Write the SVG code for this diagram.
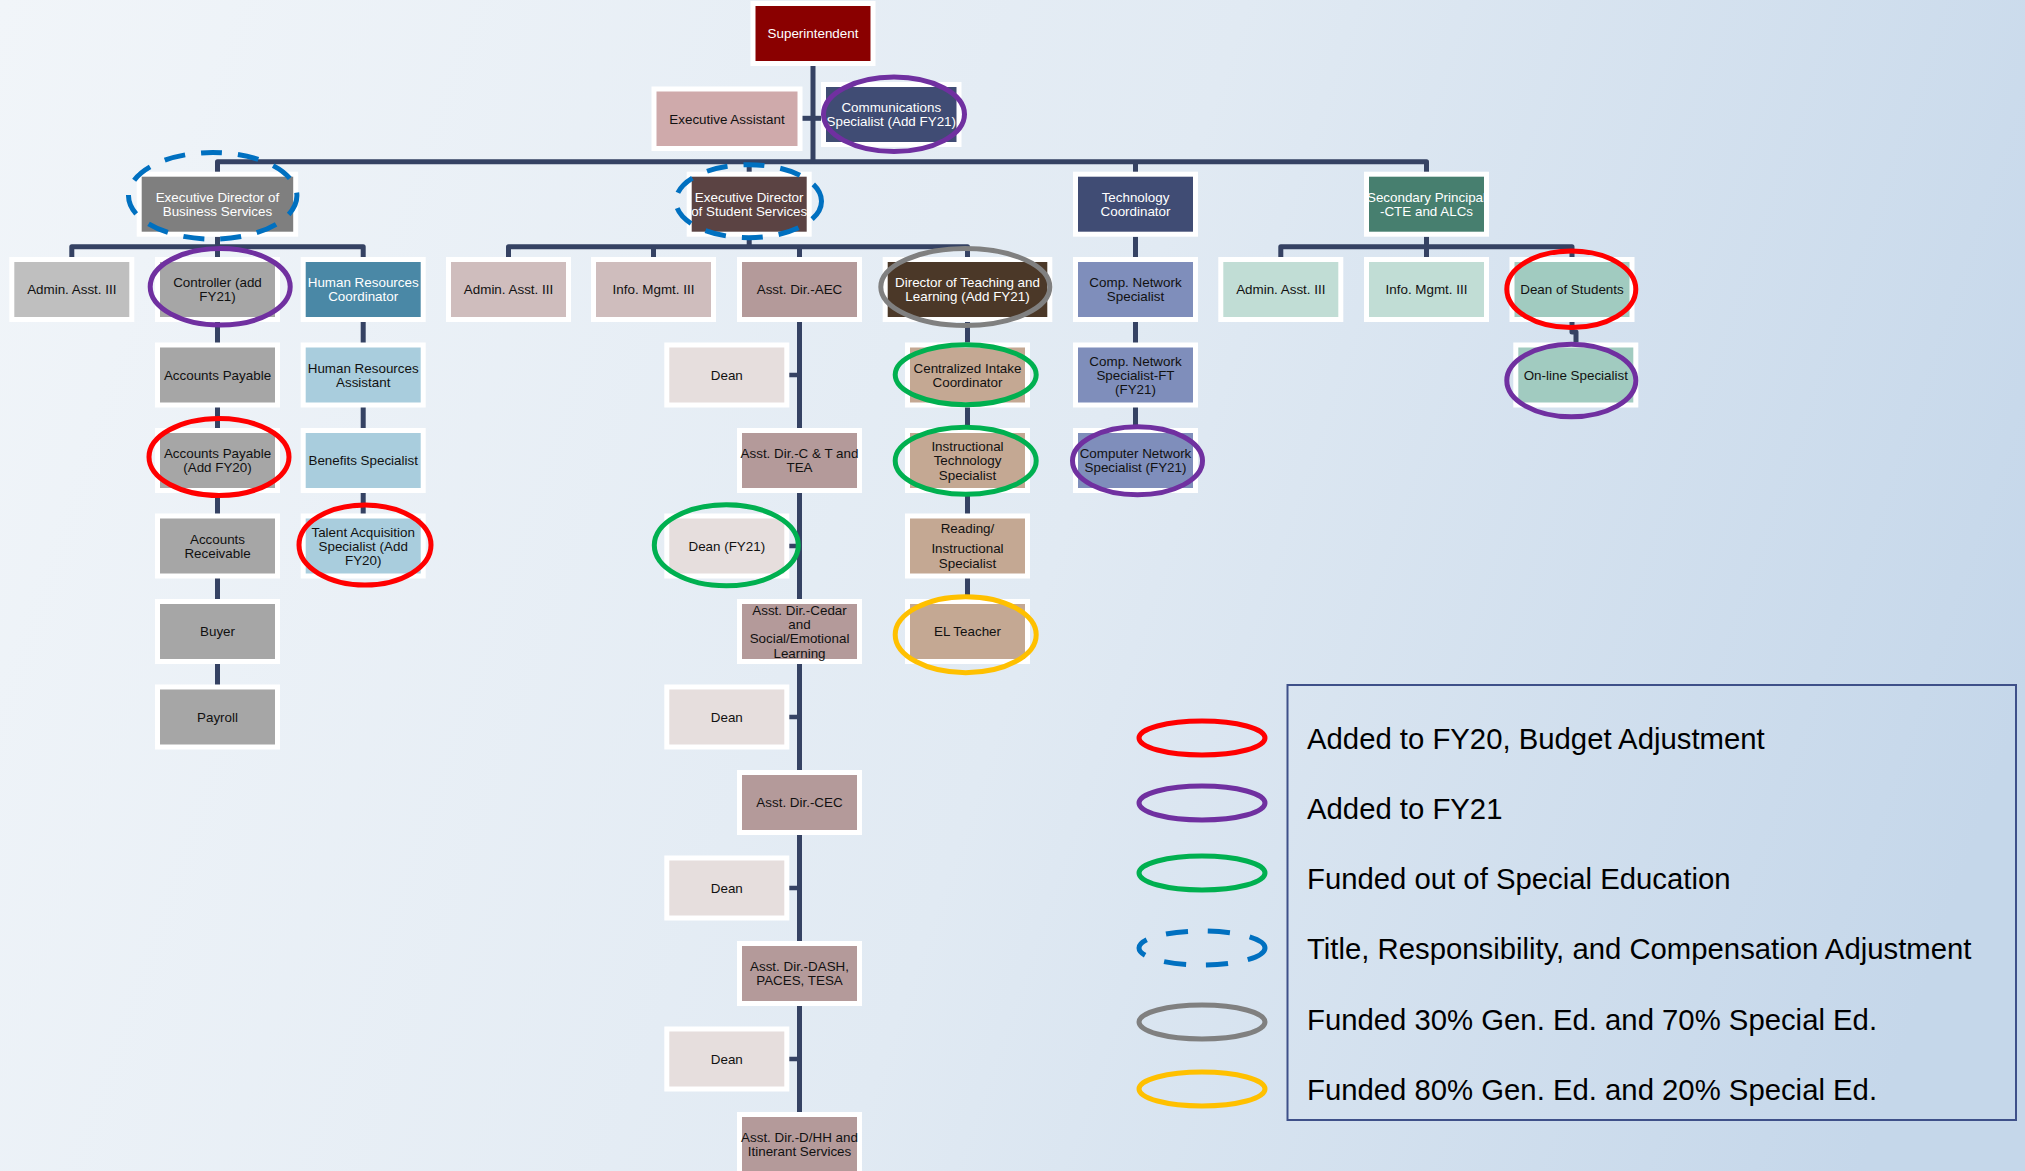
<svg xmlns="http://www.w3.org/2000/svg" width="2025" height="1171" viewBox="0 0 2025 1171">
<defs>
<linearGradient id="bg" gradientUnits="userSpaceOnUse" x1="0" y1="0" x2="2025" y2="700">
<stop offset="0" stop-color="#f1f5f9"/>
<stop offset="0.55" stop-color="#e1eaf3"/>
<stop offset="1" stop-color="#c5d7ea"/>
</linearGradient>
<clipPath id="spclip"><rect x="1369" y="176.7" width="115" height="55"/></clipPath>
</defs>
<style>
.w{fill:#ffffff}
.t{font-family:"Liberation Sans",Arial,sans-serif;font-size:13.4px;text-anchor:middle;fill:#111111}
.tw{fill:#ffffff}
.c{fill:none;stroke:#354263;stroke-width:5;stroke-linejoin:round}
.tk{fill:none;stroke:#354263;stroke-width:4.5}
.e{fill:none;stroke-width:5}
.red{stroke:#ff0000}
.pur{stroke:#7030a0}
.grn{stroke:#00b050}
.blu{stroke:#0070c0;stroke-dasharray:21 16}
.gry{stroke:#808080}
.yel{stroke:#ffc000}
.lg{font-family:"Liberation Sans",Arial,sans-serif;font-size:29.3px;fill:#000000}
</style>
<rect x="0" y="0" width="2025" height="1171" fill="url(#bg)"/>

<g id="connectors">
<path class="c" d="M813,65 V161.7"/>
<path class="c" d="M802,118.3 H821"/>
<path class="c" d="M217.5,172 V161.7 H1426.5 V172"/>
<path class="c" d="M749.2,161.7 V172"/>
<path class="c" d="M1135.5,161.7 V172"/>
<path class="c" d="M71.8,257 V246.7 H363.2 V514"/>
<path class="c" d="M217.5,236.7 V685"/>
<path class="c" d="M508.5,257 V246.7 H967.5 V600"/>
<path class="c" d="M653.5,246.7 V257"/>
<path class="c" d="M749.2,236.7 V246.7"/>
<path class="c" d="M799.5,246.7 V1171"/>
<path class="tk" d="M789,375 H799.5 M789,546 H799.5 M789,717 H799.5 M789,888 H799.5 M789,1059 H799.5"/>
<path class="c" d="M1135.5,236.7 V429"/>
<path class="c" d="M1280.8,257 V246.7 H1572 V257"/>
<path class="c" d="M1426.5,236.7 V257"/>
<path class="c" d="M1572,322 V332 H1576 V342.5"/>
</g>

<g id="n-superintendent"><rect class="w" x="750.5" y="1" width="125" height="65"/><rect x="755.5" y="6" width="115" height="55" fill="#8a0000"/><text class="t tw" x="813" y="38.3">Superintendent</text></g>
<g id="n-exec-assistant"><rect class="w" x="651.5" y="86.5" width="151" height="64.5"/><rect x="656.5" y="91.5" width="141" height="54.5" fill="#cfaaab"/><text class="t" x="727" y="123.5">Executive Assistant</text></g>
<g id="n-communications"><rect class="w" x="821" y="82" width="140.5" height="65"/><rect x="826" y="87" width="130.5" height="55" fill="#404c74"/><text class="t tw"><tspan x="891.25" y="112.15">Communications</tspan><tspan x="891.25" y="126.45">Specialist (Add FY21)</tspan></text></g>

<g id="n-ed-business"><rect class="w" x="136.7" y="171.7" width="161.5" height="65"/><rect x="141.7" y="176.7" width="151.5" height="55" fill="#7f7f7f"/><text class="t tw"><tspan x="217.45" y="201.85">Executive Director of</tspan><tspan x="217.45" y="216.15">Business Services</tspan></text></g>
<g id="n-ed-student"><rect class="w" x="686.7" y="171.7" width="125" height="65"/><rect x="691.7" y="176.7" width="115" height="55" fill="#5b4343"/><text class="t tw"><tspan x="749.2" y="201.85">Executive Director</tspan><tspan x="749.2" y="216.15">of Student Services</tspan></text></g>
<g id="n-tech-coord"><rect class="w" x="1073" y="171.7" width="125" height="65"/><rect x="1078" y="176.7" width="115" height="55" fill="#404c74"/><text class="t tw"><tspan x="1135.5" y="201.85">Technology</tspan><tspan x="1135.5" y="216.15">Coordinator</tspan></text></g>
<g id="n-secondary"><rect class="w" x="1364" y="171.7" width="125" height="65"/><rect x="1369" y="176.7" width="115" height="55" fill="#477f6f"/><text class="t tw" clip-path="url(#spclip)"><tspan x="1426.5" y="201.85">Secondary Principal</tspan><tspan x="1426.5" y="216.15">-CTE and ALCs</tspan></text></g>

<g id="n-admin-biz"><rect class="w" x="9.3" y="257" width="125" height="65"/><rect x="14.3" y="262" width="115" height="55" fill="#bfbfbf"/><text class="t" x="71.8" y="294.3">Admin. Asst. III</text></g>
<g id="n-controller"><rect class="w" x="155" y="257" width="125" height="65"/><rect x="160" y="262" width="115" height="55" fill="#a6a6a6"/><text class="t"><tspan x="217.5" y="287.15">Controller (add</tspan><tspan x="217.5" y="301.45">FY21)</tspan></text></g>
<g id="n-hr-coord"><rect class="w" x="300.7" y="257" width="125" height="65"/><rect x="305.7" y="262" width="115" height="55" fill="#4a88a6"/><text class="t tw"><tspan x="363.2" y="287.15">Human Resources</tspan><tspan x="363.2" y="301.45">Coordinator</tspan></text></g>
<g id="n-admin-stu"><rect class="w" x="446" y="257" width="125" height="65"/><rect x="451" y="262" width="115" height="55" fill="#cfbdbd"/><text class="t" x="508.5" y="294.3">Admin. Asst. III</text></g>
<g id="n-info-stu"><rect class="w" x="591" y="257" width="125" height="65"/><rect x="596" y="262" width="115" height="55" fill="#cfbdbd"/><text class="t" x="653.5" y="294.3">Info. Mgmt. III</text></g>
<g id="n-aec"><rect class="w" x="737" y="257" width="125" height="65"/><rect x="742" y="262" width="115" height="55" fill="#b49a9a"/><text class="t" x="799.5" y="294.3">Asst. Dir.-AEC</text></g>
<g id="n-dtl"><rect class="w" x="882.7" y="257" width="169.6" height="65"/><rect x="887.7" y="262" width="159.6" height="55" fill="#4b3828"/><text class="t tw"><tspan x="967.5" y="287.15">Director of Teaching and</tspan><tspan x="967.5" y="301.45">Learning (Add FY21)</tspan></text></g>
<g id="n-cns"><rect class="w" x="1073" y="257" width="125" height="65"/><rect x="1078" y="262" width="115" height="55" fill="#7f8ebb"/><text class="t"><tspan x="1135.5" y="287.15">Comp. Network</tspan><tspan x="1135.5" y="301.45">Specialist</tspan></text></g>
<g id="n-admin-sec"><rect class="w" x="1218.3" y="257" width="125" height="65"/><rect x="1223.3" y="262" width="115" height="55" fill="#c1ddd5"/><text class="t" x="1280.8" y="294.3">Admin. Asst. III</text></g>
<g id="n-info-sec"><rect class="w" x="1364" y="257" width="125" height="65"/><rect x="1369" y="262" width="115" height="55" fill="#c1ddd5"/><text class="t" x="1426.5" y="294.3">Info. Mgmt. III</text></g>
<g id="n-dean-students"><rect class="w" x="1509.5" y="257" width="125" height="65"/><rect x="1514.5" y="262" width="115" height="55" fill="#a1cbc0"/><text class="t" x="1572" y="294.3">Dean of Students</text></g>

<g id="n-ap"><rect class="w" x="155" y="342.5" width="125" height="65"/><rect x="160" y="347.5" width="115" height="55" fill="#a6a6a6"/><text class="t" x="217.5" y="379.8">Accounts Payable</text></g>
<g id="n-hr-asst"><rect class="w" x="300.7" y="342.5" width="125" height="65"/><rect x="305.7" y="347.5" width="115" height="55" fill="#a9cddd"/><text class="t"><tspan x="363.2" y="372.65">Human Resources</tspan><tspan x="363.2" y="386.95">Assistant</tspan></text></g>
<g id="n-dean1"><rect class="w" x="664.3" y="342.5" width="125" height="65"/><rect x="669.3" y="347.5" width="115" height="55" fill="#e6dedd"/><text class="t" x="726.8" y="379.8">Dean</text></g>
<g id="n-cic"><rect class="w" x="905" y="342.5" width="125" height="65"/><rect x="910" y="347.5" width="115" height="55" fill="#c4a893"/><text class="t"><tspan x="967.5" y="372.65">Centralized Intake</tspan><tspan x="967.5" y="386.95">Coordinator</tspan></text></g>
<g id="n-cns-ft"><rect class="w" x="1073" y="342.5" width="125" height="65"/><rect x="1078" y="347.5" width="115" height="55" fill="#7f8ebb"/><text class="t"><tspan x="1135.5" y="365.5">Comp. Network</tspan><tspan x="1135.5" y="379.8">Specialist-FT</tspan><tspan x="1135.5" y="394.1">(FY21)</tspan></text></g>
<g id="n-online"><rect class="w" x="1513.3" y="342.5" width="125" height="65"/><rect x="1518.3" y="347.5" width="115" height="55" fill="#a1cbc0"/><text class="t" x="1575.8" y="379.8">On-line Specialist</text></g>

<g id="n-ap2"><rect class="w" x="155" y="428" width="125" height="65"/><rect x="160" y="433" width="115" height="55" fill="#a6a6a6"/><text class="t"><tspan x="217.5" y="458.15">Accounts Payable</tspan><tspan x="217.5" y="472.45">(Add FY20)</tspan></text></g>
<g id="n-benefits"><rect class="w" x="300.7" y="428" width="125" height="65"/><rect x="305.7" y="433" width="115" height="55" fill="#a9cddd"/><text class="t" x="363.2" y="465.3">Benefits Specialist</text></g>
<g id="n-ctt"><rect class="w" x="737" y="428" width="125" height="65"/><rect x="742" y="433" width="115" height="55" fill="#b49a9a"/><text class="t"><tspan x="799.5" y="458.15">Asst. Dir.-C &amp; T and</tspan><tspan x="799.5" y="472.45">TEA</tspan></text></g>
<g id="n-its"><rect class="w" x="905" y="428" width="125" height="65"/><rect x="910" y="433" width="115" height="55" fill="#c4a893"/><text class="t"><tspan x="967.5" y="451">Instructional</tspan><tspan x="967.5" y="465.3">Technology</tspan><tspan x="967.5" y="479.6">Specialist</tspan></text></g>
<g id="n-cn-fy21"><rect class="w" x="1073" y="428" width="125" height="65"/><rect x="1078" y="433" width="115" height="55" fill="#7f8ebb"/><text class="t"><tspan x="1135.5" y="458.15">Computer Network</tspan><tspan x="1135.5" y="472.45">Specialist (FY21)</tspan></text></g>

<g id="n-ar"><rect class="w" x="155" y="513.5" width="125" height="65"/><rect x="160" y="518.5" width="115" height="55" fill="#a6a6a6"/><text class="t"><tspan x="217.5" y="543.65">Accounts</tspan><tspan x="217.5" y="557.95">Receivable</tspan></text></g>
<g id="n-talent"><rect class="w" x="300.7" y="513.5" width="125" height="65"/><rect x="305.7" y="518.5" width="115" height="55" fill="#a9cddd"/><text class="t"><tspan x="363.2" y="536.5">Talent Acquisition</tspan><tspan x="363.2" y="550.8">Specialist (Add</tspan><tspan x="363.2" y="565.1">FY20)</tspan></text></g>
<g id="n-dean2"><rect class="w" x="664.3" y="513.5" width="125" height="65"/><rect x="669.3" y="518.5" width="115" height="55" fill="#e6dedd"/><text class="t" x="726.8" y="550.8">Dean (FY21)</text></g>
<g id="n-reading"><rect class="w" x="905" y="513.5" width="125" height="65"/><rect x="910" y="518.5" width="115" height="55" fill="#c4a893"/><text class="t"><tspan x="967.5" y="533">Reading/</tspan><tspan x="967.5" y="553">Instructional</tspan><tspan x="967.5" y="568">Specialist</tspan></text></g>

<g id="n-buyer"><rect class="w" x="155" y="599" width="125" height="65"/><rect x="160" y="604" width="115" height="55" fill="#a6a6a6"/><text class="t" x="217.5" y="636.3">Buyer</text></g>
<g id="n-cedar"><rect class="w" x="737" y="599" width="125" height="65"/><rect x="742" y="604" width="115" height="55" fill="#b49a9a"/><text class="t"><tspan x="799.5" y="614.85">Asst. Dir.-Cedar</tspan><tspan x="799.5" y="629.15">and</tspan><tspan x="799.5" y="643.45">Social/Emotional</tspan><tspan x="799.5" y="657.75">Learning</tspan></text></g>
<g id="n-el"><rect class="w" x="905" y="599" width="125" height="65"/><rect x="910" y="604" width="115" height="55" fill="#c4a893"/><text class="t" x="967.5" y="636.3">EL Teacher</text></g>

<g id="n-payroll"><rect class="w" x="155" y="684.5" width="125" height="65"/><rect x="160" y="689.5" width="115" height="55" fill="#a6a6a6"/><text class="t" x="217.5" y="721.8">Payroll</text></g>
<g id="n-dean3"><rect class="w" x="664.3" y="684.5" width="125" height="65"/><rect x="669.3" y="689.5" width="115" height="55" fill="#e6dedd"/><text class="t" x="726.8" y="721.8">Dean</text></g>
<g id="n-cec"><rect class="w" x="737" y="770" width="125" height="65"/><rect x="742" y="775" width="115" height="55" fill="#b49a9a"/><text class="t" x="799.5" y="807.3">Asst. Dir.-CEC</text></g>
<g id="n-dean4"><rect class="w" x="664.3" y="855.5" width="125" height="65"/><rect x="669.3" y="860.5" width="115" height="55" fill="#e6dedd"/><text class="t" x="726.8" y="892.8">Dean</text></g>
<g id="n-dash"><rect class="w" x="737" y="941" width="125" height="65"/><rect x="742" y="946" width="115" height="55" fill="#b49a9a"/><text class="t"><tspan x="799.5" y="971.15">Asst. Dir.-DASH,</tspan><tspan x="799.5" y="985.45">PACES, TESA</tspan></text></g>
<g id="n-dean5"><rect class="w" x="664.3" y="1026.5" width="125" height="65"/><rect x="669.3" y="1031.5" width="115" height="55" fill="#e6dedd"/><text class="t" x="726.8" y="1063.8">Dean</text></g>
<g id="n-dhh"><rect class="w" x="737" y="1112" width="125" height="65"/><rect x="742" y="1117" width="115" height="55" fill="#b49a9a"/><text class="t"><tspan x="799.5" y="1142.15">Asst. Dir.-D/HH and</tspan><tspan x="799.5" y="1156.45">Itinerant Services</tspan></text></g>

<g id="highlights">
<ellipse class="e pur" cx="894" cy="114.3" rx="70.5" ry="37.2"/>
<ellipse class="e blu" cx="212.7" cy="195.8" rx="84.2" ry="43.3"/>
<ellipse class="e blu" cx="748.7" cy="201.2" rx="72.8" ry="36.5"/>
<ellipse class="e pur" cx="220.2" cy="286.8" rx="70" ry="38.3"/>
<ellipse class="e gry" cx="965.3" cy="287" rx="84.5" ry="38.5"/>
<ellipse class="e red" cx="1571.3" cy="289.2" rx="64.5" ry="38.3"/>
<ellipse class="e red" cx="219" cy="457" rx="70" ry="38.5"/>
<ellipse class="e red" cx="365" cy="545" rx="66" ry="40"/>
<ellipse class="e grn" cx="965.7" cy="374.7" rx="70.5" ry="30"/>
<ellipse class="e grn" cx="965.7" cy="460.8" rx="70.5" ry="33.5"/>
<ellipse class="e grn" cx="726.3" cy="545.3" rx="72" ry="40.5"/>
<ellipse class="e yel" cx="965.7" cy="634.7" rx="70.5" ry="38"/>
<ellipse class="e pur" cx="1137.5" cy="460.8" rx="65" ry="34"/>
<ellipse class="e pur" cx="1571.3" cy="380.5" rx="64.5" ry="36.3"/>
</g>

<g id="legend">
<rect x="1287.5" y="685" width="728.5" height="435" fill="none" stroke="#3e5089" stroke-width="2"/>
<ellipse class="e red" cx="1202" cy="738" rx="63" ry="17"/>
<ellipse class="e pur" cx="1202" cy="803" rx="63" ry="17"/>
<ellipse class="e grn" cx="1202" cy="873" rx="63" ry="17"/>
<ellipse class="e" stroke="#0070c0" stroke-dasharray="22 20" cx="1202" cy="948" rx="63" ry="17"/>
<ellipse class="e gry" cx="1202" cy="1022" rx="63" ry="17"/>
<ellipse class="e yel" cx="1202" cy="1089" rx="63" ry="17"/>
<text class="lg" x="1307" y="749">Added to FY20, Budget Adjustment</text>
<text class="lg" x="1307" y="819">Added to FY21</text>
<text class="lg" x="1307" y="889">Funded out of Special Education</text>
<text class="lg" x="1307" y="959">Title, Responsibility, and Compensation Adjustment</text>
<text class="lg" x="1307" y="1030">Funded 30% Gen. Ed. and 70% Special Ed.</text>
<text class="lg" x="1307" y="1100">Funded 80% Gen. Ed. and 20% Special Ed.</text>
</g>
</svg>
